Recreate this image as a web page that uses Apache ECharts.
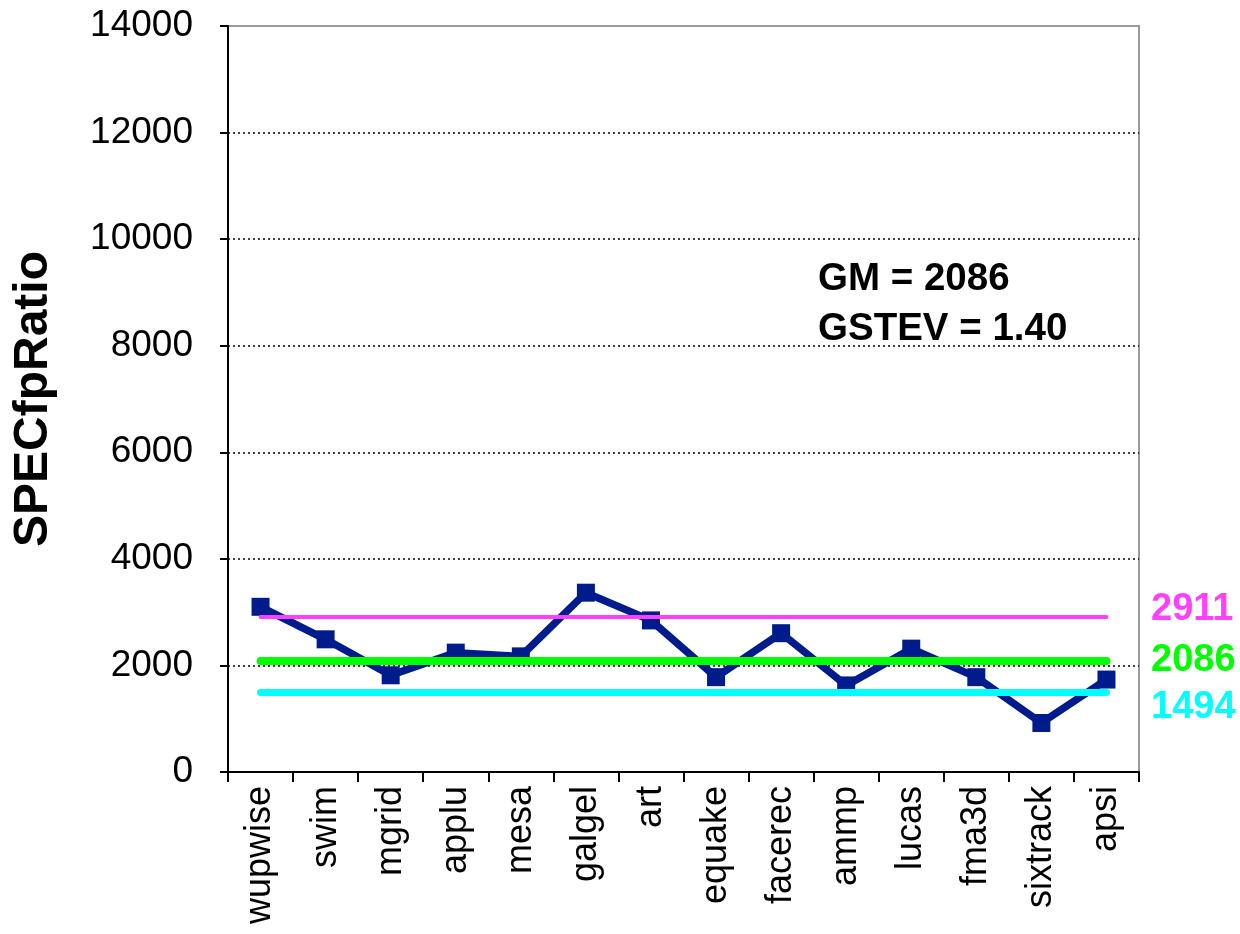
<!DOCTYPE html>
<html>
<head>
<meta charset="utf-8">
<script src="https://cdn.jsdelivr.net/npm/echarts@6/dist/echarts.min.js"></script>
<style>
  html, body { margin: 0; padding: 0; background: #ffffff; }
  #chart { width: 1240px; height: 934px; }
</style>
</head>
<body>
<div id="chart"></div>
<script>
// SPECfp2000 benchmark ratios
const benchmarks = ['wupwise', 'swim', 'mgrid', 'applu', 'mesa', 'galgel', 'art',
                    'equake', 'facerec', 'ammp', 'lucas', 'fma3d', 'sixtrack', 'apsi'];
const specRatios = [3100, 2490, 1815, 2240, 2170, 3365, 2845,
                    1780, 2605, 1625, 2315, 1780, 920, 1735];

// Y axis scale
const yMin = 0;
const yMax = 14000;
const yStep = 2000;

// Reference levels: GM * GSTEV, GM, GM / GSTEV
const refLevels = [2911, 2086, 1494];
const refColors = ['#ff40ff', '#00ff00', '#00ffff'];
const refWidths = [4, 8, 7];
const refLabelShift = [-9, -2, 13];

// Summary annotation
const summaryLines = ['GM = 2086', 'GSTEV = 1.40'];

const FONT = '"Liberation Sans", Arial, Helvetica, sans-serif';
const chart = echarts.init(document.getElementById('chart'), null, { renderer: 'canvas' });

const levelLines = refLevels.map((v, i) => [
  { coord: [0, v], lineStyle: { color: refColors[i], width: refWidths[i], type: 'solid', cap: 'round' } },
  { coord: [benchmarks.length - 1, v] }
]);

chart.setOption({
  animation: false,
  backgroundColor: '#ffffff',
  grid: {
    left: 228, right: 101, top: 26, bottom: 162,
    show: true, borderColor: '#9a9a9a', borderWidth: 2, backgroundColor: 'transparent'
  },
  xAxis: {
    type: 'category',
    data: benchmarks,
    boundaryGap: true,
    axisLine: { show: true, lineStyle: { color: '#000', width: 2 } },
    axisTick: { show: true, length: 10, lineStyle: { color: '#000', width: 2 } },
    axisLabel: {
      interval: 0, rotate: 90, margin: 14,
      fontFamily: FONT, fontSize: 36, color: '#000'
    },
    splitLine: { show: false }
  },
  yAxis: {
    type: 'value',
    min: yMin, max: yMax, interval: yStep,
    name: 'SPECfpRatio',
    nameLocation: 'middle',
    nameRotate: 90,
    nameGap: 170,
    nameTextStyle: { fontFamily: FONT, fontSize: 48, fontWeight: 'bold', color: '#000' },
    axisLine: { show: true, lineStyle: { color: '#000', width: 2 } },
    axisTick: { show: true, length: 8, lineStyle: { color: '#000', width: 2 } },
    axisLabel: {
      margin: 35, fontFamily: FONT, fontSize: 37, color: '#000',
      formatter: (v) => String(v)
    },
    splitLine: {
      show: true, showMinLine: false, showMaxLine: false,
      lineStyle: { color: '#000', width: 1.5, type: [2, 3] }
    }
  },
  series: [
    {
      name: 'SPECfpRatio',
      type: 'line',
      data: specRatios,
      z: 2,
      symbol: 'rect',
      symbolSize: 18,
      lineStyle: { color: '#001c8c', width: 7.5 },
      itemStyle: { color: '#001c8c' }
    },
    {
      name: 'levels',
      type: 'line',
      data: [],
      z: 3,
      silent: true,
      markLine: {
        silent: true,
        symbol: ['none', 'none'],
        label: { show: false },
        emphasis: { disabled: true },
        data: levelLines
      }
    }
  ]
});

// Level value labels beside the plot, placed from the same values
function drawLabels() {
  const texts = refLevels.map((v, i) => {
    const y = chart.convertToPixel({ yAxisIndex: 0 }, v);
    return {
      type: 'text',
      left: 1151,
      top: y + refLabelShift[i] - 17,
      style: {
        text: String(v),
        fontFamily: FONT, fontSize: 38, fontWeight: 'bold',
        fill: refColors[i]
      }
    };
  });
  const notes = summaryLines.map((t, i) => ({
    type: 'text',
    left: 818,
    top: 260 + i * 50,
    style: { text: t, fontFamily: FONT, fontSize: 38.5, fontWeight: 'bold', fill: '#000' }
  }));
  chart.setOption({ graphic: texts.concat(notes) });
}
drawLabels();
</script>
</body>
</html>
